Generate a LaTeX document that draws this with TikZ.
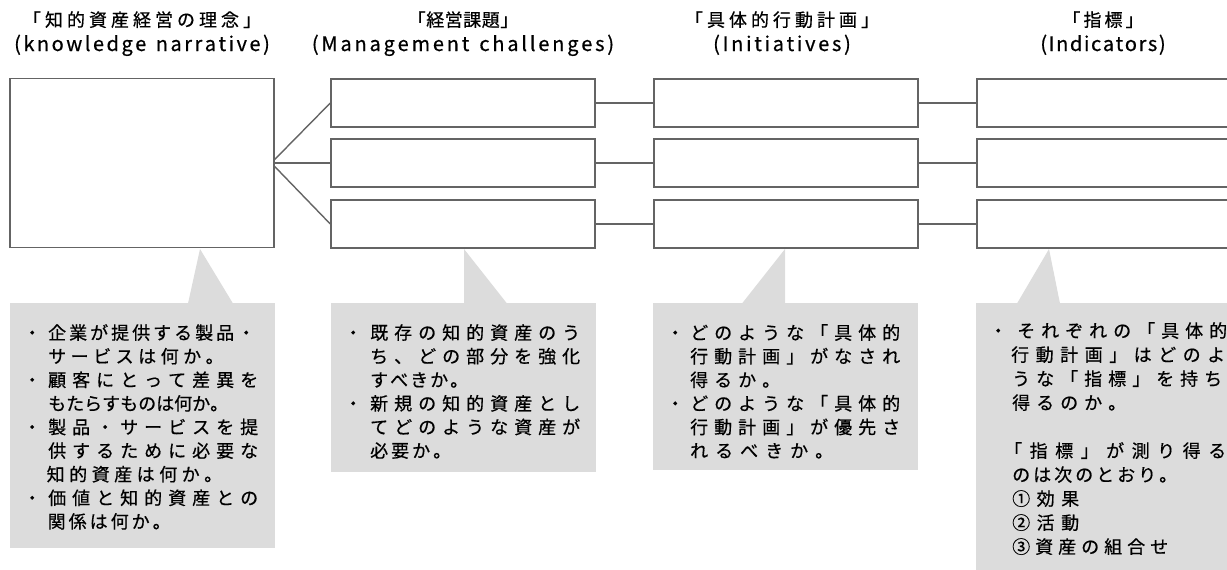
\documentclass[tikz,border=0pt]{standalone}
\usepackage{fontspec}
\setmainfont{Noto Sans CJK JP}[FakeBold=0.6]
\definecolor{lc}{RGB}{100,100,100}
\definecolor{cg}{RGB}{220,220,220}
\ExplSyntaxOn
\NewDocumentCommand\ls{mm}{\hbox{\kern-#1\relax\tl_map_inline:nn{#2}{\kern#1\relax ##1}}}
\ExplSyntaxOff
\newcommand\Ln[3]{\hbox{\vrule height15pt depth5pt width0pt\hskip#1pt\ls{#2pt}{#3}}}
\newcommand\Bl[3]{\hbox{\vrule height15pt depth5pt width0pt\rlap{・}\hskip#1pt\ls{#2pt}{#3}}}
\newcommand\Bk{\hbox{\vrule height15pt depth5pt width0pt}}
\begin{document}
\begin{tikzpicture}[x=1pt,y=-1pt,
  box/.style={draw=lc, line width=1.4pt, fill=white, inner sep=0pt, minimum width=264pt},
  conn/.style={draw=lc, line width=1.4pt},
  hd/.style={inner sep=0pt, anchor=base, font=\fontsize{18}{20}\selectfont},
  hl/.style={inner sep=0pt, anchor=base, font=\fontsize{20}{22}\selectfont},
  txt/.style={inner sep=0pt, anchor=north west, font=\fontsize{18}{20}\selectfont},
  co/.style={fill=cg}]
\useasboundingbox (0,0) rectangle (1227,570);
\clip (0,0) rectangle (1227,570);
% callout backgrounds
\fill[co] (10,303) rectangle (275,548);
\fill[co] (200,249) -- (188,303.5) -- (233,303.5) -- cycle;
\fill[co] (331,303) rectangle (596,472);
\fill[co] (464,249) -- (464,303.5) -- (507,303.5) -- cycle;
\fill[co] (653,303) rectangle (918,470);
\fill[co] (785,249) -- (742,303.5) -- (785,303.5) -- cycle;
\fill[co] (976,303) rectangle (1245,580);
\fill[co] (1049,249) -- (1017,303.5) -- (1060,303.5) -- cycle;
% boxes
\node[box, minimum height=169pt] (kn) at (142,163) {};
\node[box, minimum height=48pt] (m1) at (463,103) {};
\node[box, minimum height=48pt] (m2) at (463,163) {};
\node[box, minimum height=48pt] (m3) at (463,224) {};
\node[box, minimum height=48pt] (i1) at (786,103) {};
\node[box, minimum height=48pt] (i2) at (786,163) {};
\node[box, minimum height=48pt] (i3) at (786,224) {};
\node[box, minimum height=48pt] (d1) at (1109,103) {};
\node[box, minimum height=48pt] (d2) at (1109,163) {};
\node[box, minimum height=48pt] (d3) at (1109,224) {};
% connectors
\draw[conn] ([yshift=3.5pt]kn.east) -- (m1.west);
\draw[conn] (kn.east) -- (m2.west);
\draw[conn] ([yshift=-3.5pt]kn.east) -- (m3.west);
\draw[conn] (m1.east) -- (i1.west);
\draw[conn] (m2.east) -- (i2.west);
\draw[conn] (m3.east) -- (i3.west);
\draw[conn] (i1.east) -- (d1.west);
\draw[conn] (i2.east) -- (d2.west);
\draw[conn] (i3.east) -- (d3.west);
% headers
\node[hd] (h1a) at (142,26.5) {\ls{4pt}{「知的資産経営の理念」}};
\node[hl] (h1b) at (142,51) {\ls{2.5pt}{(knowledge{ }narrative)}};
\node[hd] (h2a) at (463,26.5) {\ls{0.5pt}{「経営課題」}};
\node[hl] (h2b) at (463,51) {\ls{2.8pt}{(Management{ }challenges)}};
\node[hd] (h3a) at (782,26.5) {\ls{4pt}{「具体的行動計画」}};
\node[hl] (h3b) at (782,51) {\ls{2.7pt}{(Initiatives)}};
\node[hd] (h4a) at (1103,26.5) {\ls{3pt}{「指標」}};
\node[hl] (h4b) at (1103,51) {\ls{1.6pt}{(Indicators)}};
% callout texts
\node[txt] (t1) at (23,324) {\vbox{\baselineskip=23.6pt
 \Bl{25}{3}{企業が提供する製品・}
 \Ln{25}{4.5}{サービスは何か。}
 \Bl{25}{6}{顧客にとって差異を}
 \Ln{25}{0}{もたらすものは何か。}
 \Bl{25}{6}{製品・サービスを提}
 \Ln{25}{6}{供するために必要な}
 \Ln{23.5}{4.5}{知的資産は何か。}
 \Bl{25}{6}{価値と知的資産との}
 \Ln{24.5}{3}{関係は何か。}}};
\node[txt] (t2) at (344,324) {\vbox{\baselineskip=23.6pt
 \Bl{26}{6}{既存の知的資産のう}
 \Ln{26}{6}{ち、どの部分を強化}
 \Ln{26}{2}{すべきか。}
 \Bl{26}{6}{新規の知的資産とし}
 \Ln{26}{6}{てどのような資産が}
 \Ln{26}{3}{必要か。}}};
\node[txt] (t3) at (666,324) {\vbox{\baselineskip=23.6pt
 \Bl{24}{6}{どのような「具体的}
 \Ln{24}{6}{行動計画」がなされ}
 \Ln{24}{6}{得るか。}
 \Bl{24}{6}{どのような「具体的}
 \Ln{24}{6}{行動計画」が優先さ}
 \Ln{24}{7}{れるべきか。}}};
\node[txt] (t4) at (989,322) {\vbox{\baselineskip=24pt
 \Bl{28}{6}{それぞれの「具体的}
 \Ln{22}{6.5}{行動計画」はどのよ}
 \Ln{23}{6}{うな「指標」を持ち}
 \Ln{23}{6}{得るのか。}
 \Bk
 \Ln{15}{7.5}{「指標」が測り得る}
 \Ln{23}{3}{のは次のとおり。}
 \Ln{23}{6.5}{①効果}
 \Ln{23}{6.5}{②活動}
 \Ln{23}{5}{③資産の組合せ}}};
\end{tikzpicture}
\end{document}
